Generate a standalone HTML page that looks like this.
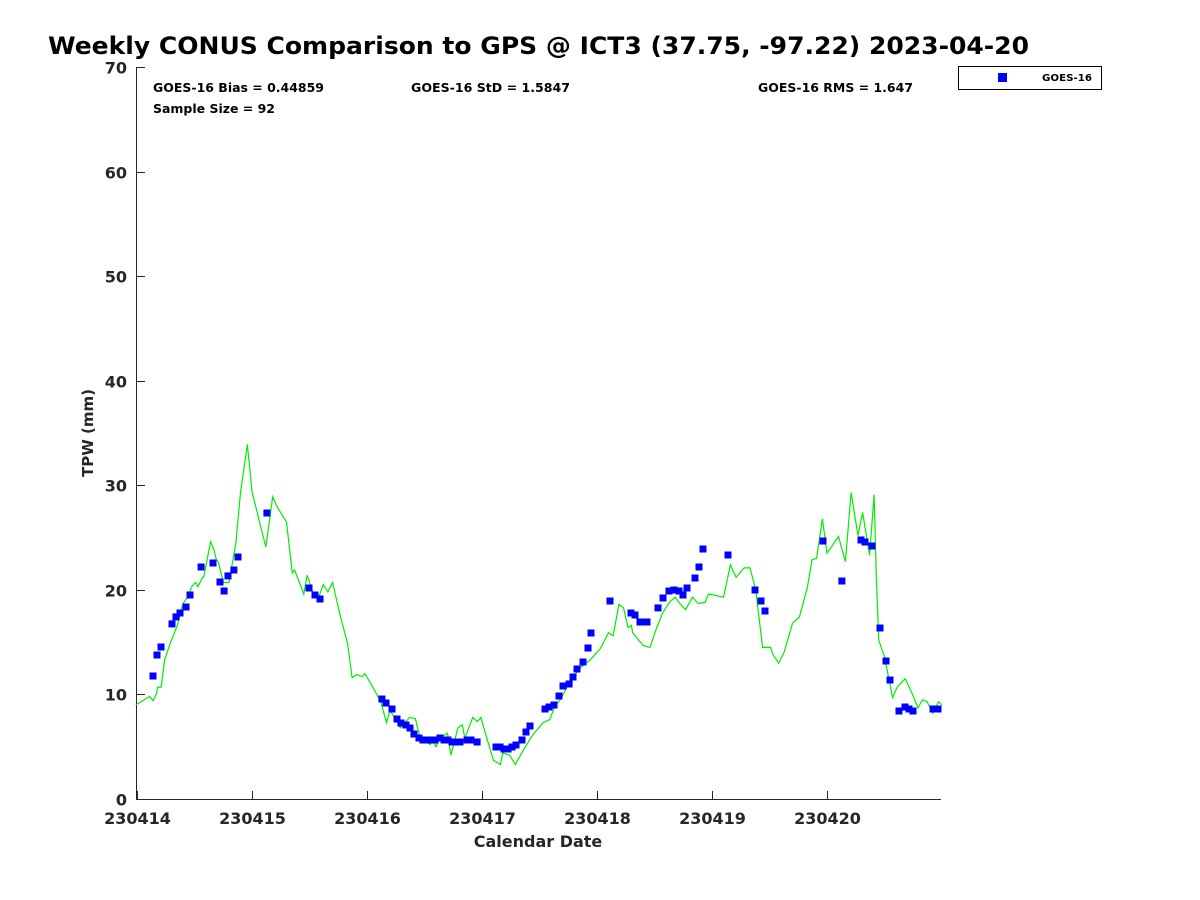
<!DOCTYPE html>
<html><head><meta charset="utf-8"><style>
body{margin:0;background:#fff;width:1200px;height:900px;overflow:hidden}
svg{display:block;font-family:"DejaVu Sans","Liberation Sans",sans-serif}
</style></head><body>
<svg id="chart" width="1200" height="900" xmlns="http://www.w3.org/2000/svg">
<text x="48" y="54" font-size="24" font-weight="bold" fill="#000" textLength="981" lengthAdjust="spacingAndGlyphs">Weekly CONUS Comparison to GPS @ ICT3 (37.75, -97.22) 2023-04-20</text>
<g id="axes"></g>
<g id="series"></g>
<text x="153" y="92" font-size="12" font-weight="bold" textLength="171" lengthAdjust="spacingAndGlyphs">GOES-16 Bias = 0.44859</text>
<text x="153" y="113" font-size="12" font-weight="bold" textLength="122" lengthAdjust="spacingAndGlyphs">Sample Size = 92</text>
<text x="411" y="92" font-size="12" font-weight="bold" textLength="159" lengthAdjust="spacingAndGlyphs">GOES-16 StD = 1.5847</text>
<text x="758" y="92" font-size="12" font-weight="bold" textLength="155" lengthAdjust="spacingAndGlyphs">GOES-16 RMS = 1.647</text>
<g>
<rect x="958.5" y="66.5" width="143" height="23" fill="#fff" stroke="#000" stroke-width="1"/>
<rect x="998" y="73" width="9" height="9" fill="#0000ff"/>
<text x="1042" y="81" font-size="10" font-weight="bold" textLength="50" lengthAdjust="spacingAndGlyphs">GOES-16</text>
</g>
<text x="538" y="847" font-size="16" font-weight="bold" fill="#262626" text-anchor="middle">Calendar Date</text>
<text transform="translate(93,433) rotate(-90)" font-size="15" font-weight="bold" fill="#262626" text-anchor="middle">TPW (mm)</text>
</svg>
<script>
const yTicks=[0,10,20,30,40,50,60,70];
const xTickLabels=["230414","230415","230416","230417","230418","230419","230420"];
const gpsDays=[-0.01,0.11,0.14,0.17,0.18,0.21,0.24,0.29,0.35,0.40,0.44,0.48,0.51,0.53,0.57,0.58,0.64,0.67,0.69,0.71,0.75,0.80,0.86,0.90,0.96,1.00,1.12,1.18,1.22,1.30,1.35,1.37,1.45,1.48,1.53,1.58,1.62,1.66,1.70,1.77,1.83,1.87,1.91,1.96,1.98,2.03,2.12,2.17,2.20,2.29,2.37,2.42,2.46,2.55,2.57,2.60,2.63,2.70,2.73,2.79,2.83,2.85,2.92,2.96,2.99,3.04,3.10,3.16,3.18,3.24,3.29,3.36,3.44,3.53,3.59,3.63,3.68,3.76,3.85,3.94,4.03,4.10,4.14,4.19,4.23,4.27,4.30,4.31,4.40,4.46,4.52,4.57,4.63,4.68,4.72,4.77,4.83,4.88,4.94,4.97,5.10,5.16,5.21,5.28,5.33,5.38,5.44,5.51,5.53,5.58,5.63,5.70,5.76,5.83,5.87,5.91,5.96,6.00,6.10,6.16,6.21,6.27,6.31,6.37,6.41,6.43,6.45,6.50,6.57,6.61,6.68,6.74,6.79,6.83,6.87,6.92,6.97,7.00];
const gpsTpw=[9.0,9.8,9.4,10.1,10.7,10.7,13.3,14.9,16.6,18.7,19.3,20.4,20.7,20.3,21.2,21.2,24.6,23.8,22.9,22.6,20.7,20.7,24.5,29.3,33.9,29.4,24.1,28.9,27.9,26.5,21.6,21.9,19.6,21.4,19.7,19.3,20.5,19.8,20.7,17.4,14.9,11.6,11.9,11.7,12.0,11.1,9.3,7.3,8.5,6.8,7.8,7.7,5.9,5.2,5.6,5.0,5.8,6.3,4.2,6.8,7.1,5.8,7.8,7.4,7.8,5.9,3.7,3.3,4.4,4.2,3.3,4.7,6.1,7.3,7.6,8.8,9.5,11.1,12.5,13.3,14.4,15.9,15.6,18.6,18.3,16.4,16.6,15.9,14.7,14.5,16.4,17.8,18.8,19.3,18.7,18.1,19.3,18.7,18.8,19.6,19.3,22.4,21.2,22.1,22.1,20.0,14.5,14.5,13.8,13.0,14.1,16.8,17.4,20.3,22.9,23.0,26.8,23.5,25.1,22.7,29.3,25.2,27.4,23.3,29.1,20.9,15.2,13.6,9.7,10.7,11.5,10.1,8.7,9.5,9.3,8.2,9.3,9.0];
const goesDays=[0.139,0.174,0.209,0.304,0.339,0.374,0.426,0.461,0.557,0.661,0.722,0.757,0.791,0.843,0.878,1.130,1.496,1.548,1.591,2.130,2.165,2.217,2.261,2.296,2.339,2.374,2.409,2.452,2.487,2.522,2.557,2.591,2.635,2.670,2.704,2.739,2.774,2.809,2.870,2.904,2.957,3.122,3.157,3.191,3.226,3.261,3.296,3.348,3.383,3.417,3.548,3.583,3.626,3.670,3.704,3.757,3.791,3.826,3.878,3.922,3.948,4.113,4.296,4.330,4.374,4.435,4.530,4.574,4.626,4.670,4.713,4.748,4.783,4.852,4.887,4.922,5.139,5.374,5.426,5.461,5.965,6.130,6.296,6.330,6.391,6.461,6.513,6.548,6.626,6.678,6.713,6.748,6.922,6.965];
const goesTpw=[11.76,13.77,14.54,16.74,17.41,17.79,18.36,19.51,22.19,22.57,20.75,19.89,21.33,21.90,23.14,27.35,20.18,19.51,19.13,9.56,9.18,8.61,7.65,7.27,7.08,6.79,6.22,5.83,5.64,5.64,5.64,5.64,5.83,5.64,5.64,5.45,5.45,5.45,5.64,5.64,5.45,4.97,4.97,4.78,4.78,4.97,5.16,5.64,6.41,6.98,8.61,8.80,8.99,9.85,10.81,11.00,11.67,12.43,13.10,14.44,15.87,18.93,17.79,17.60,16.93,16.93,18.27,19.22,19.89,19.99,19.89,19.51,20.18,21.13,22.19,23.91,23.33,19.99,18.93,17.98,24.67,20.85,24.77,24.58,24.19,16.35,13.20,11.38,8.42,8.80,8.61,8.42,8.61,8.61];

const NS="http://www.w3.org/2000/svg";
const X0=137,PXDAY=115,Y0=799,PXMM=732/70;
function xs(d){return X0+d*PXDAY;}
function ys(v){return Y0-v*PXMM;}
function mk(tag,attrs,parent){const e=document.createElementNS(NS,tag);for(const k in attrs)e.setAttribute(k,attrs[k]);parent.appendChild(e);return e;}
const axes=document.getElementById('axes'),series=document.getElementById('series');
let a=mk('line',{x1:136.5,y1:67,x2:136.5,y2:800,stroke:'#262626','stroke-width':1},axes);


a=mk('line',{x1:136,y1:799.5,x2:941,y2:799.5,stroke:'#262626','stroke-width':1},axes);


yTicks.forEach(v=>{
  const y=Math.round(ys(v))+0.5;
  const t=mk('line',{x1:137,y1:y,x2:145,y2:y,stroke:'#262626'},axes);
  
  
  const l=mk('text',{x:127,y:y+6,'font-size':16,'font-weight':'bold',fill:'#262626','text-anchor':'end'},axes);
  
  
  l.textContent=v;
});
xTickLabels.forEach((s,i)=>{
  const x=Math.round(xs(i))+0.5;
  const t=mk('line',{x1:x,y1:799,x2:x,y2:791,stroke:'#262626'},axes);
  
  
  const l=mk('text',{x:x,y:824,'font-size':16,'font-weight':'bold',fill:'#262626','text-anchor':'middle'},axes);
  
  
  l.textContent=s;
});
const pts=gpsDays.map((d,i)=>xs(d).toFixed(1)+','+ys(gpsTpw[i]).toFixed(1)).join(' ');
const line=mk('polyline',{points:pts,fill:'none',stroke:'#00ee00','stroke-width':1.2},series);


goesDays.forEach((d,i)=>{
  const r=mk('rect',{x:(xs(d)-3.5).toFixed(1),y:(ys(goesTpw[i])-3.5).toFixed(1),width:7,height:7,fill:'#0000ff'},series);
  
  
});
</script>
</body></html>
